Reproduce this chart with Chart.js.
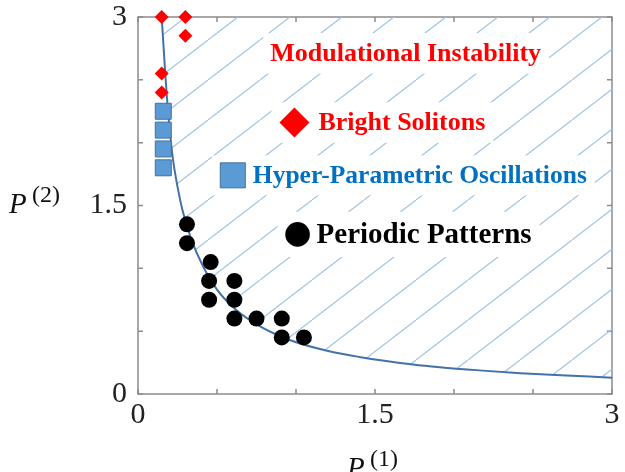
<!DOCTYPE html>
<html lang="en">
<head>
<meta charset="UTF-8">
<title>Phase diagram P(1) - P(2)</title>
<script src="https://cdn.jsdelivr.net/npm/chart.js"></script>
<style>
  body { margin: 0; background: #fff; }
  canvas { display: block; }
</style>
</head>
<body>
<canvas id="phaseChart" width="625" height="472"></canvas>
<script>
// boundary curve
const curveP1 = [0.15, 0.17, 0.19, 0.22, 0.25, 0.28, 0.31, 0.34, 0.41, 0.50, 0.62, 0.77, 0.96, 1.21, 1.40, 1.74, 1.91, 2.16, 2.42, 2.71, 3.0];
const curveP2 = [3.0, 2.6, 2.25, 1.88, 1.65, 1.47, 1.34, 1.22, 1.02, 0.83, 0.67, 0.54, 0.43, 0.34, 0.295, 0.235, 0.213, 0.188, 0.166, 0.148, 0.13];

// bright solitons (red diamonds)
const solitonP1 = [0.15, 0.30, 0.30, 0.15, 0.15];
const solitonP2 = [3.0, 3.0, 2.85, 2.55, 2.4];

// hyper-parametric oscillations (blue squares)
const hpoP1 = [0.16, 0.16, 0.16, 0.16];
const hpoP2 = [2.25, 2.1, 1.95, 1.8];

// periodic patterns (black dots)
const patternP1 = [0.31, 0.31, 0.46, 0.45, 0.61, 0.45, 0.61, 0.61, 0.75, 0.91, 0.91, 1.05];
const patternP2 = [1.35, 1.2, 1.05, 0.9, 0.9, 0.75, 0.75, 0.6, 0.6, 0.6, 0.45, 0.45];

const xTickLabels = ['0', '1.5', '3'];
const yTickLabels = ['0', '1.5', '3'];
const regionNames = ['Modulational Instability', 'Bright Solitons', 'Hyper-Parametric Oscillations', 'Periodic Patterns'];

const toPoints = (xs, ys) => xs.map((x, i) => ({ x: x, y: ys[i] }));

const canvas = document.getElementById('phaseChart');
const ctx = canvas.getContext('2d');

// diagonal hatching for the instability region
function hatchPattern() {
    const w = 52, h = 40;
    const tile = document.createElement('canvas');
    tile.width = w;
    tile.height = h;
    const g = tile.getContext('2d');
    g.strokeStyle = '#9dc3e6';
    g.lineWidth = 1.2;
    g.beginPath();
    g.moveTo(0, h);
    g.lineTo(w, 0);
    g.stroke();
    return ctx.createPattern(tile, 'repeat');
}

const SERIF = '"Liberation Serif", "DejaVu Serif", serif';

// in-plot key: marker position (data units), text colour, size
const keyItems = [
    { text: regionNames[0], x: 1.694, y: 2.71, color: '#ff0000', size: 26, center: true },
    { text: regionNames[1], x: 0.99, y: 2.16, color: '#ff0000', size: 26, dx: 24, r: 15 },
    { text: regionNames[2], x: 0.60, y: 1.74, color: '#0070c0', size: 25.5, dx: 20, r: 13 },
    { text: regionNames[3], x: 1.01, y: 1.27, color: '#000000', size: 29, dx: 19, r: 12 }
];

function keyGeometry(chart, k) {
    const c = chart.ctx;
    c.font = 'bold ' + k.size + 'px ' + SERIF;
    const tw = c.measureText(k.text).width;
    const px = chart.scales.x.getPixelForValue(k.x);
    const py = chart.scales.y.getPixelForValue(k.y);
    const tx = k.center ? px - tw / 2 : px + k.dx;
    return { px, py, tx, tw };
}

// frame with inward ticks, white text boxes, axis titles, key texts
const decorPlugin = {
    id: 'decor',
    beforeDatasetsDraw(chart) {
        const a = chart.chartArea;
        const xs = chart.scales.x, ys = chart.scales.y;
        const c = chart.ctx;
        c.save();
        c.strokeStyle = '#8c8c8c';
        c.lineWidth = 1.5;
        c.strokeRect(a.left, a.top, a.right - a.left, a.bottom - a.top);
        c.beginPath();
        xs.ticks.forEach(t => {
            const px = xs.getPixelForValue(t.value);
            c.moveTo(px, a.bottom); c.lineTo(px, a.bottom - 5);
            c.moveTo(px, a.top); c.lineTo(px, a.top + 5);
        });
        ys.ticks.forEach(t => {
            const py = ys.getPixelForValue(t.value);
            c.moveTo(a.left, py); c.lineTo(a.left + 5, py);
            c.moveTo(a.right, py); c.lineTo(a.right - 5, py);
        });
        c.stroke();
        c.restore();
    },
    afterDatasetDraw(chart, args) {
        if (args.meta.type !== 'line') return;
        // text boxes are opaque and hide the hatching
        const c = chart.ctx;
        c.save();
        c.fillStyle = '#ffffff';
        keyItems.forEach(k => {
            const g = keyGeometry(chart, k);
            const left = k.center ? g.tx - 7 : g.px - k.r - 8;
            const right = g.tx + g.tw + 8;
            const half = k.size * 0.78;
            c.fillRect(left, g.py - half, right - left, 2 * half);
        });
        c.restore();
    },
    afterDatasetsDraw(chart) {
        const c = chart.ctx;
        c.save();
        c.textBaseline = 'middle';
        c.textAlign = 'left';
        keyItems.forEach(k => {
            const g = keyGeometry(chart, k);
            c.fillStyle = k.color;
            c.fillText(k.text, g.tx, g.py + 1);
        });

        // axis titles P^(1), P^(2)
        c.textBaseline = 'alphabetic';
        c.fillStyle = '#111';
        const title = (x, y, sup) => {
            c.font = 'italic 29px ' + SERIF;
            c.fillText('P', x, y);
            c.font = '24px ' + SERIF;
            c.fillText(sup, x + 23, y - 11);
        };
        title(9, 213, '(2)');
        title(347, 477, '(1)');
        c.restore();
    }
};

const chart = new Chart(ctx, {
    type: 'scatter',
    data: {
        datasets: [
            {
                label: 'Bright Solitons',
                data: toPoints(solitonP1, solitonP2),
                pointStyle: 'rectRot',
                pointRadius: 7,
                backgroundColor: '#ff0000',
                borderWidth: 0,
                clip: false,
                order: 1
            },
            {
                label: 'Hyper-Parametric Oscillations',
                data: toPoints(hpoP1, hpoP2),
                pointStyle: 'rect',
                pointRadius: 11.3,
                backgroundColor: '#5b9bd5',
                borderColor: '#41719c',
                borderWidth: 1,
                clip: false,
                order: 2
            },
            {
                label: 'Periodic Patterns',
                data: toPoints(patternP1, patternP2),
                pointStyle: 'circle',
                pointRadius: 8,
                backgroundColor: '#000000',
                borderWidth: 0,
                clip: false,
                order: 3
            },
            {
                label: 'key markers',
                data: [
                    { x: keyItems[1].x, y: keyItems[1].y },
                    { x: keyItems[2].x, y: keyItems[2].y },
                    { x: keyItems[3].x, y: keyItems[3].y }
                ],
                pointStyle: ['rectRot', 'rect', 'circle'],
                pointRadius: [15, 17.7, 12.3],
                backgroundColor: ['#ff0000', '#5b9bd5', '#000000'],
                borderColor: ['#ff0000', '#41719c', '#000000'],
                borderWidth: [0, 1, 0],
                order: 0
            },
            {
                type: 'line',
                label: 'boundary',
                data: toPoints(curveP1, curveP2),
                borderColor: '#4472a8',
                borderWidth: 2,
                pointRadius: 0,
                cubicInterpolationMode: 'monotone',
                fill: 'end',
                backgroundColor: hatchPattern(),
                order: 10
            }
        ]
    },
    options: {
        responsive: false,
        devicePixelRatio: 1,
        animation: false,
        layout: { autoPadding: false, padding: { left: 0, top: 17, right: 13, bottom: 0 } },
        plugins: {
            legend: { display: false },
            tooltip: { enabled: false }
        },
        scales: {
            x: {
                type: 'linear',
                min: 0,
                max: 3,
                grid: { display: false, drawTicks: false },
                border: { display: false },
                ticks: {
                    stepSize: 0.5,
                    autoSkip: false,
                    maxRotation: 0,
                    padding: 3,
                    color: '#222',
                    font: { family: SERIF, size: 30 },
                    callback: v => xTickLabels.includes(String(v)) ? String(v) : ''
                },
                afterFit: s => { s.height = 78; s.paddingLeft = 0; s.paddingRight = 0; }
            },
            y: {
                type: 'linear',
                min: 0,
                max: 3,
                grid: { display: false, drawTicks: false },
                border: { display: false },
                ticks: {
                    stepSize: 0.5,
                    autoSkip: false,
                    padding: 11,
                    color: '#222',
                    font: { family: SERIF, size: 30 },
                    callback: v => yTickLabels.includes(String(v)) ? String(v) : ''
                },
                afterFit: s => { s.width = 138; s.paddingTop = 0; s.paddingBottom = 0; }
            }
        }
    },
    plugins: [decorPlugin]
});
</script>
</body>
</html>
